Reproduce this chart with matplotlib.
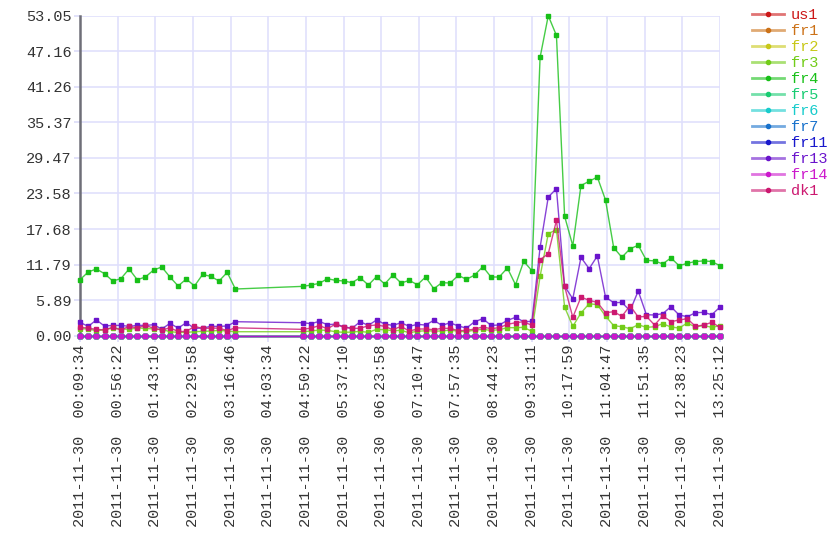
import matplotlib
matplotlib.use('Agg')
import matplotlib.pyplot as plt
from matplotlib.lines import Line2D
from matplotlib.colors import to_rgb

plt.rcParams['font.family'] = ['Liberation Mono', 'DejaVu Sans Mono']

# sample times on 2011-11-30 (gap between 03:22 and 04:46)
times = ['00:09:34', '00:19:44', '00:29:54', '00:40:04', '00:50:14', '01:00:24',
         '01:10:34', '01:20:44', '01:30:54', '01:41:04', '01:51:14', '02:01:24',
         '02:11:34', '02:21:44', '02:31:54', '02:42:04', '02:52:14', '03:02:24',
         '03:12:34', '03:22:44',
         '04:46:42', '04:56:52', '05:07:02', '05:17:12', '05:27:22', '05:37:32',
         '05:47:42', '05:57:52', '06:08:02', '06:18:12', '06:28:22', '06:38:32',
         '06:48:42', '06:58:52', '07:09:02', '07:19:12', '07:29:22', '07:39:32',
         '07:49:42', '07:59:52', '08:10:02', '08:20:12', '08:30:22', '08:40:32',
         '08:50:42', '09:00:52', '09:11:02', '09:21:12', '09:31:22', '09:41:32',
         '09:51:42', '10:01:52', '10:12:02', '10:22:12', '10:32:22', '10:42:32',
         '10:52:42', '11:02:52', '11:13:02', '11:23:12', '11:33:22', '11:43:32',
         '11:53:42', '12:03:52', '12:14:02', '12:24:12', '12:34:22', '12:44:32',
         '12:54:42', '13:04:52', '13:15:02', '13:25:12']

fr3 = [1.16, 1.11, 0.83, 0.99, 1.27, 1.11, 1.05, 1.27, 1.22, 1.11, 1.05, 0.66,
       0.55, 0.55, 0.66, 0.72, 0.77, 0.88, 0.77, 0.66,
       0.66, 0.77, 0.94, 0.88, 0.66, 0.55, 0.61, 0.72, 0.55, 1.05, 0.99, 0.83, 0.88,
       0.50, 0.72, 0.83, 0.77, 0.77, 0.94, 0.72, 0.66, 0.94, 1.05, 0.88, 0.99, 1.33,
       1.33, 1.38, 0.72, 9.84, 16.9, 17.6, 4.75, 1.55, 3.76, 5.30, 5.14, 3.26, 1.66,
       1.49, 1.16, 1.82, 1.38, 1.49, 1.99, 1.44, 1.27, 2.10, 1.44, 1.71, 1.38, 1.66]
fr4 = [9.28, 10.56, 11.06, 10.28, 9.07, 9.45, 11.06, 9.28, 9.73, 10.89, 11.39, 9.73,
       8.24, 9.40, 8.24, 10.16, 9.83, 9.07, 10.49, 7.74,
       8.18, 8.40, 8.68, 9.45, 9.17, 9.07, 8.79, 9.62, 8.40, 9.78, 8.57, 10.06, 8.73,
       9.17, 8.45, 9.73, 7.79, 8.79, 8.73, 10.00, 9.34, 10.06, 11.44, 9.73, 9.73, 11.22,
       8.45, 12.32, 10.78, 46.14, 53.05, 49.78, 19.8, 14.9, 24.9, 25.6, 26.3, 22.5, 14.6,
       13.0, 14.4, 15.0, 12.5, 12.4, 11.9, 12.9, 11.6, 12.0, 12.3, 12.4, 12.3, 11.6]
fr13 = [2.21, 1.55, 2.60, 1.60, 1.71, 1.71, 1.55, 1.71, 1.71, 1.82, 1.11, 2.04,
        1.27, 2.15, 1.22, 1.27, 1.55, 1.55, 1.60, 2.32,
        2.15, 1.99, 2.38, 1.82, 1.93, 1.49, 1.22, 2.32, 1.71, 2.60, 1.93, 1.71, 2.15,
        1.55, 1.88, 1.77, 2.54, 1.71, 2.15, 1.60, 1.27, 2.32, 2.82, 1.71, 1.77, 2.54,
        3.04, 2.32, 2.38, 14.64, 22.99, 24.37, 8.18, 6.13, 12.98, 11.11, 13.21, 6.41,
        5.47, 5.52, 4.14, 7.41, 3.48, 3.43, 3.65, 4.81, 3.43, 3.15, 3.81, 3.87, 3.48, 4.75]
dk1 = [1.40, 1.25, 1.05, 0.95, 1.40, 0.95, 1.55, 1.25, 1.75, 1.20, 0.95, 1.30,
       0.70, 0.70, 1.55, 1.20, 1.25, 1.25, 0.85, 1.30,
       1.05, 1.27, 1.66, 1.16, 1.93, 1.38, 1.22, 1.22, 1.66, 1.77, 1.55, 0.99, 1.55,
       0.77, 1.11, 1.11, 0.99, 1.22, 1.22, 0.83, 0.88, 1.11, 1.44, 1.16, 1.33, 1.88,
       2.15, 2.32, 1.70, 12.6, 13.6, 19.1, 8.18, 3.04, 6.41, 5.86, 5.52, 3.81, 3.98,
       3.21, 4.97, 3.10, 3.21, 1.77, 3.32, 2.32, 2.60, 2.82, 1.55, 1.77, 2.21, 1.38]
zeros = [0.0] * 72   # us1, fr1, fr2, fr5, fr6, fr7, fr11, fr14 stay at zero

names = ['us1', 'fr1', 'fr2', 'fr3', 'fr4', 'fr5', 'fr6', 'fr7', 'fr11', 'fr13', 'fr14', 'dk1']
series = [zeros, zeros, zeros, fr3, fr4, zeros, zeros, zeros, zeros, fr13, zeros, dk1]
colors = ['#cc1818', '#cc7218', '#c8c818', '#72cc18', '#18c018', '#18cc72',
          '#18cccc', '#1872cc', '#1818cc', '#6a14cc', '#cc18cc', '#cc1870']

yticks = [0.00, 5.89, 11.79, 17.68, 23.58, 29.47, 35.37, 41.26, 47.16, 53.05]
xticklabels = ['00:09:34', '00:56:22', '01:43:10', '02:29:58', '03:16:46', '04:03:34',
               '04:50:22', '05:37:10', '06:23:58', '07:10:47', '07:57:35', '08:44:23',
               '09:31:11', '10:17:59', '11:04:47', '11:51:35', '12:38:23', '13:25:12']
date = '2011-11-30'

def secs(s):
    h, m, sec = s.split(':')
    return int(h) * 3600 + int(m) * 60 + int(sec)

t = [secs(s) for s in times]
xt = [secs(s) for s in xticklabels]

fig = plt.figure(figsize=(8.4, 5.6), dpi=100)
ax = fig.add_axes([80/840, 1 - 335.7/560, 640/840, 320/560])

handles = []
for name, vals, c in zip(names, series, colors):
    rgb = to_rgb(c)
    ax.plot(t, vals, '-', color=rgb + (0.8,), lw=1.0, marker='s', ms=2.2,
            mfc=rgb, mec=rgb, clip_on=False, zorder=3)
    handles.append(Line2D([], [], color=rgb + (0.6,), lw=2.0, marker='o', ms=3,
                          mfc=rgb, mec=rgb))

ax.set_xlim(xt[0], xt[-1])
ax.set_ylim(0, 53.05)
ax.set_yticks(yticks)
ax.set_yticklabels(['%.2f' % v for v in yticks])
ax.set_xticks(xt)
ax.set_xticklabels([date + '  ' + s for s in xticklabels], rotation=90)

ax.grid(True, color='#e0e0fc', lw=1.2, zorder=0)
ax.tick_params(axis='both', colors='#dcdcf8', labelcolor='#333333', labelsize=11,
               length=4, width=1.2)
ax.tick_params(axis='x', pad=2)
ax.tick_params(axis='y', pad=2)
for s in ['top', 'right', 'bottom']:
    ax.spines[s].set_visible(False)
ax.spines['left'].set_color('#6e6e78')
ax.spines['left'].set_linewidth(1.8)

leg = fig.legend(handles, names, loc='upper left', bbox_to_anchor=(752/840, 1 - 8/560),
                 frameon=False, fontsize=11, handlelength=2.1, handletextpad=0.45,
                 labelspacing=0.13, borderpad=0, borderaxespad=0)
for txt, c in zip(leg.get_texts(), colors):
    txt.set_color(c)

plt.savefig('out.png', dpi=100)
